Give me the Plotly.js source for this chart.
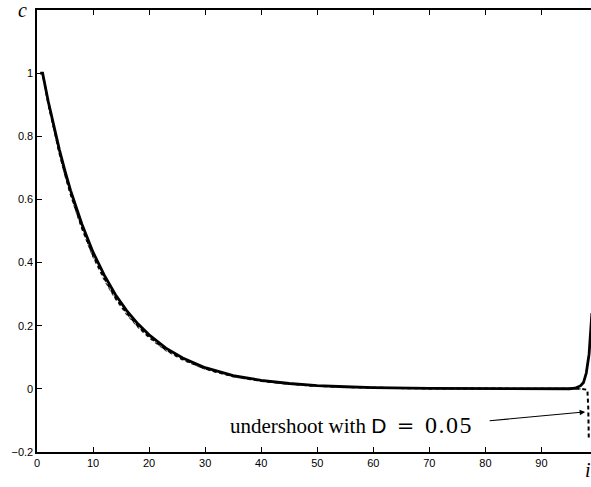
<!DOCTYPE html>
<html>
<head>
<meta charset="utf-8">
<script src="https://cdn.plot.ly/plotly-3.0.1.min.js"></script>
<style>html,body{margin:0;padding:0;background:#fff;}#chart{width:591px;height:487px;}</style>
</head>
<body>
<div id="chart"></div>
<script>
// Grid index i (x) and concentration c for the three computed solutions
const xSolid = [0.6, 1, 2, 3, 4, 5, 6, 8, 10, 12, 14, 16, 18, 20, 23, 26, 30, 35, 40, 45, 50, 55, 60, 70, 80, 90, 95, 96, 97, 97.5, 98, 98.5, 99];
const cSolid = [1.0, 1.0, 0.911, 0.830, 0.757, 0.690, 0.628, 0.522, 0.433, 0.360, 0.298, 0.248, 0.206, 0.171, 0.129, 0.098, 0.067, 0.042, 0.027, 0.017, 0.010, 0.0066, 0.004, 0.0016, 0.0006, 0.0003, 0.0003, 0.002, 0.010, 0.020, 0.050, 0.11, 0.24];

const xDashed = [0.6, 1, 2, 3, 4, 5, 6, 8, 10, 12, 14, 16, 18, 20, 23, 26, 30, 35, 40, 45, 50, 55, 60, 70, 80, 90, 95, 97, 98.2, 98.35, 98.45];
const cDashed = [1.0, 1.0, 0.905, 0.822, 0.748, 0.680, 0.618, 0.512, 0.423, 0.350, 0.289, 0.240, 0.199, 0.165, 0.124, 0.094, 0.064, 0.040, 0.025, 0.016, 0.009, 0.006, 0.0035, 0.0013, 0.0005, 0.0002, 0.0002, 0.0002, -0.003, -0.06, -0.16];

const xDotted = [0.6, 1, 2, 3, 4, 5, 6, 8, 10, 12, 14, 16, 18, 20, 23, 26, 30, 35, 40, 45, 50, 55, 60, 70, 80, 90, 95, 97];
const cDotted = [1.0, 1.0, 0.902, 0.818, 0.743, 0.675, 0.612, 0.506, 0.417, 0.344, 0.284, 0.235, 0.195, 0.161, 0.121, 0.091, 0.062, 0.038, 0.024, 0.015, 0.009, 0.0055, 0.0033, 0.0012, 0.0005, 0.0002, 0.0002, 0.0002];

const yTickVals = [-0.2, 0, 0.2, 0.4, 0.6, 0.8, 1];
const yTickText = ['\u22120.2', '0', '0.2', '0.4', '0.6', '0.8', '1'];
const xTickVals = [0, 10, 20, 30, 40, 50, 60, 70, 80, 90, 100];
const xTickText = ['0', '10', '20', '30', '40', '50', '60', '70', '80', '90', '100'];

// annotation: arrow head point and label anchor (data units)
const arrowHead = {x: 97.8, y: -0.073};
const labelAnchor = {x: 78.1, y: -0.114};

const traces = [
  {x: xDotted, y: cDotted, mode: 'lines', line: {color: '#444', width: 1.2, dash: 'dot'}, hoverinfo: 'skip'},
  {x: xDashed, y: cDashed, mode: 'lines', line: {color: '#000', width: 2, dash: '4px,3px'}, hoverinfo: 'skip'},
  {x: xSolid, y: cSolid, mode: 'lines', line: {color: '#000', width: 2.8}, hoverinfo: 'skip'}
];

const tickFont = {family: 'Liberation Sans, Arial, Helvetica, sans-serif', size: 11, color: '#000'};
const serif = 'Liberation Serif, Times New Roman, serif';

const labelText = 'undershoot with ' +
  '<span style="font-family:Liberation Sans, Arial, sans-serif;font-size:21px">D</span>' +
  '<span style="font-family:DejaVu Serif, serif;font-size:21px">\u2002=\u2002</span>' +
  '<span style="font-size:24px;letter-spacing:1.5px">0.05</span>';

const layout = {
  width: 591, height: 487,
  margin: {l: 37, r: 0, t: 10, b: 35, pad: 0},
  paper_bgcolor: '#fff', plot_bgcolor: '#fff',
  showlegend: false,
  xaxis: {
    range: [0, 98.84], tickvals: xTickVals, ticktext: xTickText,
    ticks: 'inside', ticklen: 5, tickwidth: 1, tickcolor: '#000',
    showline: true, linecolor: '#000', linewidth: 1.6, mirror: 'ticks',
    showgrid: false, zeroline: false, tickfont: tickFont
  },
  yaxis: {
    range: [-0.2, 1.2], tickvals: yTickVals, ticktext: yTickText,
    ticks: 'inside', ticklen: 5, tickwidth: 1, tickcolor: '#000',
    showline: true, linecolor: '#000', linewidth: 1.6, mirror: false,
    showgrid: false, zeroline: false, tickfont: tickFont
  },
  annotations: [
    {
      x: arrowHead.x, y: arrowHead.y, xref: 'x', yref: 'y', text: '',
      showarrow: true, arrowhead: 2, arrowsize: 1, arrowwidth: 1.1, arrowcolor: '#000',
      ax: -97, ay: 9
    },
    {
      x: labelAnchor.x, y: labelAnchor.y, xref: 'x', yref: 'y', showarrow: false,
      text: labelText, xanchor: 'right', yanchor: 'middle',
      font: {family: serif, size: 21, color: '#000'}
    },
    {
      x: 22, y: 10, xref: 'paper', yref: 'paper', showarrow: false,
      text: '<i>c</i>', xanchor: 'center', yanchor: 'middle',
      font: {family: serif, size: 20, color: '#000'}
    },
    {
      x: 588, y: 470, xref: 'paper', yref: 'paper', showarrow: false,
      text: '<i>i</i>', xanchor: 'center', yanchor: 'middle',
      font: {family: serif, size: 20, color: '#000'}
    }
  ]
};

// convert pixel positions for axis-label annotations into paper coordinates
const plotW = 591 - 37 - 0, plotH = 487 - 10 - 35;
layout.annotations[2].x = (22 - 37) / plotW; layout.annotations[2].y = (487 - 35 - 10) / plotH;
layout.annotations[3].x = (588 - 37) / plotW; layout.annotations[3].y = (487 - 35 - 470) / plotH;

Plotly.newPlot('chart', traces, layout, {staticPlot: true, displayModeBar: false});
</script>
</body>
</html>
